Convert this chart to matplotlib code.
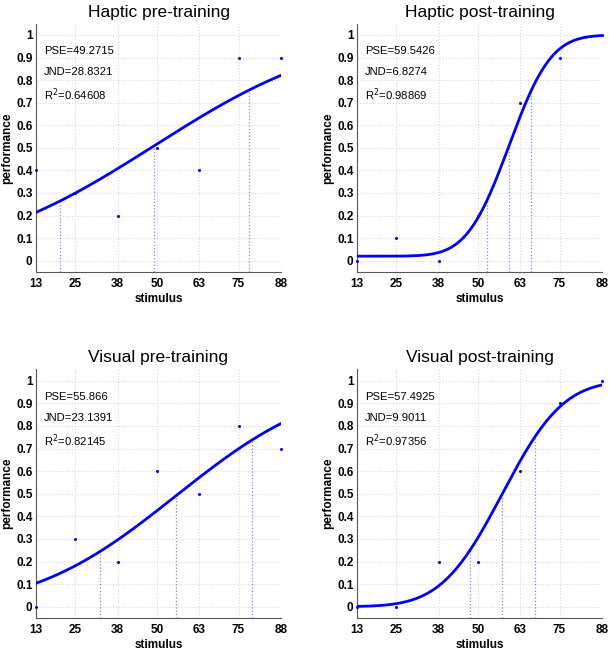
import numpy as np
import matplotlib
matplotlib.use("Agg")
import matplotlib.pyplot as plt
from math import erf, sqrt

plt.rcParams['font.family'] = ['Liberation Sans', 'DejaVu Sans']

titles = ["Haptic pre-training", "Haptic post-training",
          "Visual pre-training", "Visual post-training"]
stimulus = [13, 25, 38, 50, 63, 75, 88]
haptic_pre = [0.4, 0.3, 0.2, 0.5, 0.4, 0.9, 0.9]
haptic_post = [0.0, 0.1, 0.0, 0.2, 0.7, 0.9, 1.0]
visual_pre = [0.0, 0.3, 0.2, 0.6, 0.5, 0.8, 0.7]
visual_post = [0.0, 0.0, 0.2, 0.2, 0.6, 0.9, 1.0]
series = [haptic_pre, haptic_post, visual_pre, visual_post]

pse = [49.2715, 59.5426, 55.866, 57.4925]
jnd = [28.8321, 6.8274, 23.1391, 9.9011]
r2 = ["0.64608", "0.98869", "0.82145", "0.97356"]
guess = [0.02, 0.02, 0.0, 0.0]
lapse = [0.0, 0.0, 0.018, 0.0]

xticks = [13, 25, 38, 50, 63, 75, 88]
yticks = [0, 0.1, 0.2, 0.3, 0.4, 0.5, 0.6, 0.7, 0.8, 0.9, 1]
ytick_labels = ["0", "0.1", "0.2", "0.3", "0.4", "0.5", "0.6", "0.7", "0.8", "0.9", "1"]

Z75 = 0.6744897501960817


def psycho(x, m, j, g, l):
    s = j / Z75
    x = np.atleast_1d(np.asarray(x, dtype=float))
    cdf = np.array([0.5 * (1 + erf((xi - m) / (s * sqrt(2)))) for xi in x])
    return g + (1 - g - l) * cdf


W, H = 609, 651
fig = plt.figure(figsize=(W / 100, H / 100), dpi=100)

positions = [
    (36, 23.7, 245, 248.3),
    (357, 23.7, 245, 248.3),
    (36, 369.4, 245, 248.6),
    (357, 369.4, 245, 248.6),
]

BLUE = (0, 0, 1)
for i, (px, py, pw, ph) in enumerate(positions):
    ax = fig.add_axes([px / W, 1 - (py + ph) / H, pw / W, ph / H])
    ax.set_xlim(13, 88)
    ax.set_ylim(-0.05, 1.05)
    ax.set_xticks(xticks)
    ax.set_xticklabels([str(t) for t in xticks], fontweight='bold', fontsize=8.5)
    ax.set_yticks(yticks)
    ax.set_yticklabels(ytick_labels, fontweight='bold', fontsize=8.5)
    ax.tick_params(axis='y', length=0, pad=2.5)
    ax.tick_params(axis='x', length=0, pad=4.5)
    ax.grid(True, color='#d8d8d8', linestyle=':', linewidth=0.8)
    ax.set_axisbelow(True)
    for sp in ['top', 'right']:
        ax.spines[sp].set_visible(False)
    for sp in ['left', 'bottom']:
        ax.spines[sp].set_color('#555555')
        ax.spines[sp].set_linewidth(0.8)

    xs = np.linspace(13, 88, 300)
    ax.plot(xs, psycho(xs, pse[i], jnd[i], guess[i], lapse[i]), color=BLUE, lw=2.0,
            solid_capstyle='round', zorder=3)
    ax.plot(stimulus, series[i], linestyle='none', marker='o', markersize=2.2,
            color=BLUE, markeredgewidth=0, zorder=4, clip_on=False)
    for xv in [pse[i] - jnd[i], pse[i], pse[i] + jnd[i]]:
        yv = psycho(xv, pse[i], jnd[i], guess[i], lapse[i])[0]
        ax.plot([xv, xv], [-0.05, yv], color=(0.45, 0.55, 1.0), lw=0.9,
                linestyle=':', zorder=2)

    ax.text(15.4, 0.93, "PSE=%s" % pse[i], fontsize=8.1, va='center', ha='left')
    ax.text(15.4, 0.835, "JND=%s" % jnd[i], fontsize=8.1, va='center', ha='left')
    ax.text(15.4, 0.735, "R$^2$=%s" % r2[i], fontsize=8.1, va='center', ha='left')

    ax.set_title(titles[i], fontsize=12.5, pad=5)
    ax.set_xlabel("stimulus", fontweight='bold', fontsize=8.5, labelpad=2)
    ax.set_ylabel("performance", fontweight='bold', fontsize=8.5, labelpad=2)

fig.savefig("out.png", dpi=100)
